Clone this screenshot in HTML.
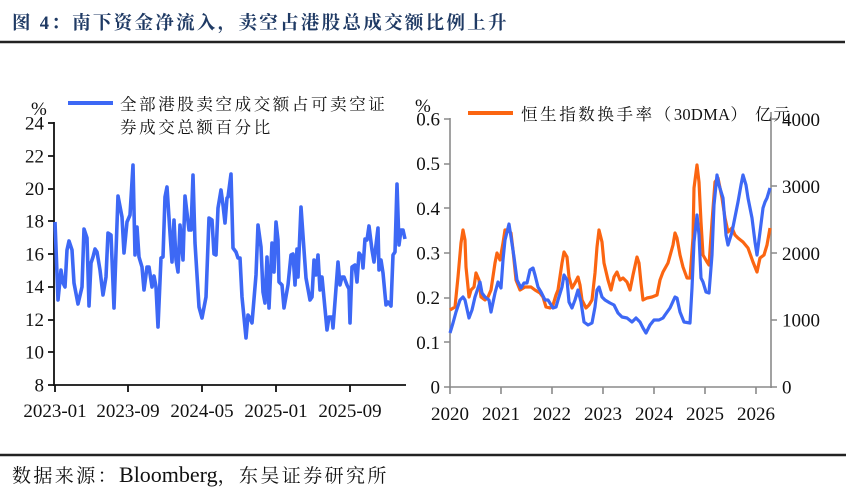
<!DOCTYPE html>
<html>
<head>
<meta charset="utf-8">
<style>
html,body{margin:0;padding:0;background:#fff;}
svg{display:block;}
.t{font-family:"Liberation Serif","Noto Serif CJK SC",serif;}
.c{font-family:"Liberation Serif","Noto Serif CJK SC",serif;}
</style>
</head>
<body>
<svg width="850" height="499" viewBox="0 0 850 499" xmlns="http://www.w3.org/2000/svg">
<rect width="850" height="499" fill="#fff"/>
<!-- Title -->
<text x="12" y="29" class="t" font-size="18.5" font-weight="bold" fill="#1f3a64" letter-spacing="2.3">图 4：南下资金净流入，卖空占港股总成交额比例上升</text>
<line x1="0" y1="42" x2="845" y2="42" stroke="#222" stroke-width="2.6"/>

<!-- LEFT CHART -->
<g class="c" font-size="19" fill="#111">
  <text x="31" y="115">%</text>
  <g text-anchor="end">
    <text x="44" y="129.5">24</text>
    <text x="44" y="162.5">22</text>
    <text x="44" y="195">20</text>
    <text x="44" y="227.5">18</text>
    <text x="44" y="260.5">16</text>
    <text x="44" y="293">14</text>
    <text x="44" y="326">12</text>
    <text x="44" y="358.5">10</text>
    <text x="44" y="391.5">8</text>
  </g>
  <g text-anchor="middle">
    <text x="55" y="417">2023-01</text>
    <text x="128" y="417">2023-09</text>
    <text x="202" y="417">2024-05</text>
    <text x="276" y="417">2025-01</text>
    <text x="350" y="417">2025-09</text>
  </g>
</g>
<g stroke="#111" stroke-width="1.8" fill="none">
  <line x1="54" y1="122" x2="54" y2="386"/>
  <line x1="53" y1="385" x2="406" y2="385"/>
  <path d="M48 123H54M48 156H54M48 189H54M48 221H54M48 254H54M48 287H54M48 320H54M48 352H54M48 385H54"/>
  <path d="M55 385V392M128 385V392M202 385V392M276 385V392M350 385V392"/>
</g>
<line x1="68" y1="103" x2="113" y2="103" stroke="#3d68f5" stroke-width="4"/>
<text x="120" y="110" class="c" font-size="16.5" fill="#111" letter-spacing="2.6">全部港股卖空成交额占可卖空证</text>
<text x="120" y="133" class="c" font-size="16.5" fill="#111" letter-spacing="2.6">券成交总额百分比</text>
<polyline fill="none" stroke="#3d68f5" stroke-width="3.6" stroke-linejoin="round" points="55,222 58,300 61,270 63,283 65,287 67,250 69,241 72,250 74,283 78,304 82,287 84,229 87,238 89,306 91,263 93,257 95,249 97,252 100,270 103,295 106,277 108,233 111,235 114,308 118,196 122,217 124,253 127,222 130,215 133,165 135,255 137,227 139,257 142,267 144,290 147,267 149,267 152,287 154,276 156,287 158,327 161,258 163,257 165,197 167,187 170,233 172,262 174,220 176,260 178,272 180,225 183,260 185,196 187,213 189,230 191,230 193,175 195,243 199,307 202,318 206,297 209,218 212,220 214,254 216,255 218,208 221,190 223,205 225,223 227,198 228,197 231,174 233,248 236,252 238,258 240,258 242,297 246,338 248,315 250,318 252,323 256,275 258,225 261,247 263,292 265,303 267,257 269,308 272,243 274,272 276,222 278,240 279,282 282,285 284,308 288,285 291,255 293,254 295,285 297,249 298,277 301,207 304,250 306,278 310,300 312,297 314,260 316,275 318,255 320,290 322,277 327,330 329,317 332,317 333,328 338,262 340,285 342,277 344,277 347,285 349,289 350,323 352,267 355,265 357,282 359,253 362,257 363,268 365,239 367,240 369,226 372,250 374,262 378,228 379,270 381,260 383,273 386,305 388,302 391,306 393,255 395,252 397,184 399,245 401,230 403,230 405,239"/>

<!-- RIGHT CHART -->
<g class="c" font-size="19" fill="#111">
  <text x="415" y="112">%</text>
  <g text-anchor="end">
    <text x="440" y="125.5">0.6</text>
    <text x="440" y="170">0.5</text>
    <text x="440" y="215">0.4</text>
    <text x="440" y="259.5">0.3</text>
    <text x="440" y="304">0.2</text>
    <text x="440" y="349">0.1</text>
    <text x="440" y="393.5">0</text>
  </g>
  <text x="782" y="126">4000</text>
  <text x="782" y="193">3000</text>
  <text x="782" y="260">2000</text>
  <text x="782" y="326.5">1000</text>
  <text x="782" y="393.5">0</text>
  <g text-anchor="middle">
    <text x="450" y="420">2020</text>
    <text x="501" y="420">2021</text>
    <text x="552" y="420">2022</text>
    <text x="603" y="420">2023</text>
    <text x="654" y="420">2024</text>
    <text x="705" y="420">2025</text>
    <text x="756" y="420">2026</text>
  </g>
</g>
<g stroke="#8a8a8a" stroke-width="1.6" fill="none">
  <line x1="450" y1="118" x2="450" y2="388"/>
  <line x1="771" y1="112" x2="771" y2="388"/>
  <line x1="449" y1="387" x2="772" y2="387"/>
  <path d="M444 119H450M444 164H450M444 208H450M444 253H450M444 298H450M444 342H450M444 387H450"/>
  <path d="M771 119H777M771 186H777M771 253H777M771 320H777M771 387H777"/>
  <path d="M450 387V394M501 387V394M552 387V394M603 387V394M654 387V394M705 387V394M756 387V394"/>
</g>
<line x1="468" y1="113" x2="513" y2="113" stroke="#fb6511" stroke-width="4"/>
<text x="521" y="120" class="c" font-size="16.5" fill="#111" letter-spacing="2.6">恒生指数换手率（<tspan letter-spacing="0.3">30DMA</tspan>）</text>
<text x="755" y="120" class="c" font-size="16.5" fill="#111" letter-spacing="2">亿元</text>
<polyline fill="none" stroke="#fb6511" stroke-width="3.2" stroke-linejoin="round" points="450,310 455,307 458,277 461,243 463,230 465,240 466,267 469,297 471,290 474,287 476,273 479,280 481,297 485,300 488,297 491,290 495,263 497,253 500,260 503,243 505,230 508,230 511,233 513,250 516,280 520,290 525,287 528,287 531,287 535,290 540,293 543,297 546,307 550,308 553,305 556,295 558,290 562,263 564,252 567,257 569,277 572,288 575,283 578,277 580,285 582,300 586,308 589,305 592,300 595,273 597,247 599,230 602,242 604,263 608,280 611,290 614,277 617,272 620,280 623,278 627,282 630,290 633,275 637,257 639,263 641,283 643,300 647,298 652,297 657,295 660,280 663,272 668,263 673,245 675,233 677,238 680,255 683,267 687,278 690,278 693,238 694,188 697,165 699,182 701,222 703,255 707,262 709,265 712,222 715,182 718,178 722,198 725,218 728,232 732,228 735,235 738,238 743,242 748,248 753,262 757,272 760,258 764,255 767,245 770,228"/>
<polyline fill="none" stroke="#3d68f5" stroke-width="3.2" stroke-linejoin="round" points="450,333 453,323 456,312 460,300 463,297 465,300 469,318 472,310 475,297 480,282 482,293 485,297 489,300 491,312 495,293 498,282 501,288 503,260 505,240 509,224 511,237 514,257 517,280 521,288 524,283 527,283 530,270 533,268 535,275 538,287 541,292 545,300 548,300 553,308 556,307 558,300 562,287 564,275 567,280 569,302 572,308 575,300 578,290 581,302 584,322 588,325 592,323 595,307 597,290 599,287 602,297 605,300 610,303 614,305 618,313 622,317 627,318 632,322 636,318 640,322 643,328 646,333 650,325 654,320 659,320 663,318 665,315 670,308 675,297 677,298 680,312 684,322 690,323 692,288 694,242 697,215 699,235 701,278 703,282 706,292 709,293 712,255 714,205 717,175 719,185 723,198 726,235 728,245 732,232 735,217 738,202 741,185 743,175 746,185 748,198 752,218 755,242 757,255 760,232 763,208 765,202 767,198 770,188"/>

<!-- Footer -->
<line x1="0" y1="455" x2="846" y2="455" stroke="#222" stroke-width="2.6"/>
<text x="12" y="482" class="c" font-size="19" fill="#111" letter-spacing="2.4">数据来源：<tspan font-size="22" letter-spacing="0">Bloomberg</tspan>，东吴证券研究所</text>
</svg>
</body>
</html>
